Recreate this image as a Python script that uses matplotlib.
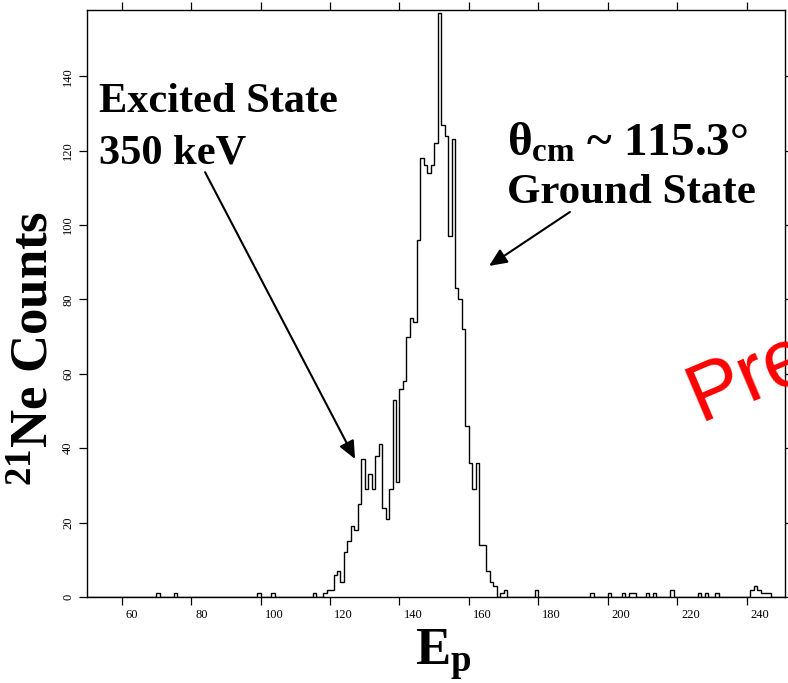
import numpy as np
import matplotlib
matplotlib.use("Agg")
import matplotlib.pyplot as plt
from matplotlib.transforms import ScaledTranslation

# Proton energy spectrum gated on 21Ne, 1-unit bins
core_first_bin = 115
core_counts = [1, 0, 0, 1, 2, 2, 6, 7, 4, 12,          # 115-124
               15, 19, 18, 25, 37, 29, 33, 29, 38, 41,  # 125-134
               24, 21, 29, 53, 31, 56, 58, 70, 75, 74,  # 135-144
               96, 118, 116, 114, 116, 122, 157, 127, 124, 97,  # 145-154
               123, 83, 80, 72, 46, 36, 29, 36, 14, 14,  # 155-164
               7, 4, 3, 0, 1, 2]                        # 165-170
stray_bins = [70, 75, 99, 103, 179, 195, 200, 204, 206, 207, 211, 213,
              218, 226, 228, 231, 241, 242, 243, 244, 245, 246]
stray_counts = [1, 1, 1, 1, 2, 1, 1, 1, 1, 1, 1, 1,
                2, 1, 1, 1, 2, 3, 2, 1, 1, 1]

x_ticks = [60, 80, 100, 120, 140, 160, 180, 200, 220, 240]
y_ticks = [0, 20, 40, 60, 80, 100, 120, 140]

hist_lo, hist_hi = 50, 251
edges = np.arange(hist_lo, hist_hi + 1)
counts = np.zeros(len(edges) - 1)
core_idx = np.arange(len(core_counts)) + core_first_bin - hist_lo
counts[core_idx] = core_counts
counts[np.array(stray_bins) - hist_lo] = stray_counts

plt.rcParams["mathtext.fontset"] = "custom"
plt.rcParams["mathtext.rm"] = "Liberation Serif:bold"
plt.rcParams["mathtext.it"] = "Liberation Serif:bold"
plt.rcParams["mathtext.bf"] = "Liberation Serif:bold"

W, H = 788, 683
fig = plt.figure(figsize=(W / 100, H / 100), dpi=100)
fig.patch.set_facecolor("white")
ax = fig.add_axes([86.7 / W, (H - 597) / H, (785.5 - 86.7) / W, (597 - 10) / H])

ax.stairs(counts, edges, color="black", linewidth=1.0, baseline=0)

ax.set_xlim(49.9, 251.2)
ax.set_ylim(0, 157.8)
ax.set_xticks(x_ticks)
ax.set_yticks(y_ticks)
ax.set_xticklabels([str(v) for v in x_ticks])
ax.set_yticklabels([str(v) for v in y_ticks])
ax.tick_params(direction="out", length=6, width=0.9, top=True, right=True,
               labeltop=False, labelright=False, colors="black", pad=3)
for spine in ax.spines.values():
    spine.set_linewidth(1.0)

shift = ScaledTranslation(4 / 100, 0, fig.dpi_scale_trans)
for lbl in ax.get_xticklabels():
    lbl.set_fontfamily("Liberation Serif")
    lbl.set_fontsize(9)
    lbl.set_horizontalalignment("left")
    lbl.set_transform(lbl.get_transform() + shift)
for lbl in ax.get_yticklabels():
    lbl.set_fontfamily("Liberation Serif")
    lbl.set_fontsize(9)
    lbl.set_rotation(90)
    lbl.set_verticalalignment("center")

left_txt = dict(fontfamily="Liberation Serif", fontweight="bold", fontsize=30.5,
                color="black", ha="left", va="baseline")
ax.text(53.5, 130.3, "Excited State", **left_txt)
ax.text(53.5, 116.6, "350 keV", **left_txt)
ax.text(171.0, 118.5, r"$\theta_{cm}$ ~ 115.3°", **dict(left_txt, fontsize=34))
ax.text(171.0, 106.0, "Ground State", **dict(left_txt, fontsize=31))

head = "-|>,head_length=0.45,head_width=0.2"
ax.annotate("", xy=(127.2, 37.1), xytext=(84.0, 114.2),
            arrowprops=dict(arrowstyle=head, color="black", lw=1.5,
                            mutation_scale=24, shrinkA=0, shrinkB=0))
ax.annotate("", xy=(165.8, 89.0), xytext=(189.1, 103.5),
            arrowprops=dict(arrowstyle=head, color="black", lw=1.5,
                            mutation_scale=24, shrinkA=0, shrinkB=0))

fig.text(35 / W, 1 - 348 / H, r"$^{21}$Ne Counts", rotation=90,
         fontfamily="Liberation Serif", fontweight="bold", fontsize=38,
         ha="center", va="center")
fig.text(443 / W, 1 - 655 / H, r"$E_p$", fontsize=38,
         ha="center", va="center")

fig.text(700 / W, 1 - 421 / H, "Preliminary", rotation=23,
         rotation_mode="anchor", fontfamily="Liberation Sans", fontsize=58,
         color="red", ha="left", va="baseline")

fig.savefig("out.png", dpi=100)
